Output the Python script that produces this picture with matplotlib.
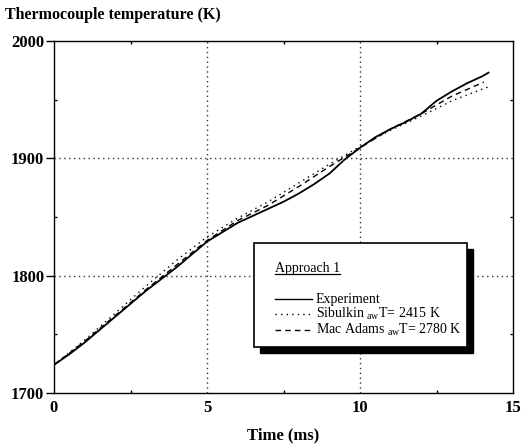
import matplotlib
matplotlib.use("Agg")
import matplotlib.pyplot as plt
from matplotlib.patches import Rectangle
from matplotlib.lines import Line2D

plt.rcParams['font.family'] = ['Liberation Serif', 'DejaVu Serif']
plt.rcParams['mathtext.fontset'] = 'custom'
plt.rcParams['mathtext.rm'] = 'Liberation Serif'
plt.rcParams['mathtext.it'] = 'Liberation Serif:italic'

# Data
t_exp = [0, 0.5, 1, 1.5, 2, 2.5, 3, 3.5, 4, 4.5, 5, 5.5, 6, 6.5, 7, 7.5, 8, 8.5,
         9, 9.5, 10, 10.5, 11, 11.5, 12, 12.5, 13, 13.5, 14, 14.2]
T_exp = [1724, 1733, 1743, 1754, 1765, 1776, 1787, 1797, 1807, 1818, 1829, 1837,
         1845, 1851, 1857, 1863, 1870, 1878, 1887, 1899, 1909, 1918, 1925, 1931,
         1938, 1949, 1957, 1964, 1970, 1973]

t_sib = [0, 1, 2, 3, 4, 5, 6, 7, 8, 9, 10, 11, 12, 13, 14.2]
T_sib = [1724, 1745, 1768, 1791, 1813, 1833, 1849, 1863, 1879, 1895, 1910, 1924,
         1936, 1949, 1961]

t_mac = [0, 1, 2, 3, 4, 5, 6, 7, 8, 9, 10, 11, 12, 13, 14.05]
T_mac = [1724, 1744, 1766, 1788, 1809, 1830, 1847, 1860, 1876, 1893, 1909, 1925,
         1938, 1953, 1965]

xticks = [0, 5, 10, 15]
yticks = [1700, 1800, 1900, 2000]

fig = plt.figure(figsize=(5.30, 4.48), dpi=100)
ax = fig.add_axes([54/530, 1-393/448, (513-54)/530, (393-41)/448])

ax.plot(t_exp, T_exp, color='black', lw=1.3, ls='-')
ax.plot(t_sib, T_sib, color='black', lw=1.0, ls=(0, (1, 3)))
ax.plot(t_mac, T_mac, color='black', lw=1.0, ls=(0, (4, 3)))

ax.set_xlim(0, 15)
ax.set_ylim(1700, 2000)
ax.set_xticks(xticks)
ax.set_yticks(yticks)
ax.set_xticks([2.5, 7.5, 12.5], minor=True)
ax.set_yticks([1750, 1850, 1950], minor=True)

for gx in [5, 10]:
    ax.axvline(gx, color='#333333', lw=1.0, ls=(0, (1, 2.5)), zorder=0)
for gy in [1800, 1900]:
    ax.axhline(gy, color='#333333', lw=1.0, ls=(0, (1, 2.5)), zorder=0)

ax.tick_params(axis='y', which='major', direction='out', length=6, width=1,
               labelsize=12, pad=1)
ax.tick_params(axis='x', which='major', direction='in', length=0, labelsize=12, pad=5)
ax.tick_params(which='minor', direction='in', length=2, width=1,
               top=True, right=True)
for lab in ax.get_xticklabels() + ax.get_yticklabels():
    lab.set_fontweight('bold')
for s in ax.spines.values():
    s.set_linewidth(1.0)

ax.set_xlabel('Time (ms)', fontsize=12, fontweight='bold', labelpad=8)
fig.text(5/530, 1-19/448, 'Thermocouple temperature (K)', fontsize=11.5,
         fontweight='bold', ha='left', va='baseline')

# Legend box with shadow
bx0, by0, bx1, by1 = 254, 243, 467, 347
off = 6
fig.patches.append(Rectangle(((bx0+off)/530, 1-(by1+off)/448), (bx1-bx0)/530,
                             (by1-by0)/448, transform=fig.transFigure,
                             facecolor='black', edgecolor='black', zorder=5))
fig.patches.append(Rectangle((bx0/530, 1-by1/448), (bx1-bx0)/530,
                             (by1-by0)/448, transform=fig.transFigure,
                             facecolor='white', edgecolor='black', lw=1.2, zorder=6))

fig.text(275/530, 1-272/448, 'Approach 1', fontsize=10, ha='left',
         va='baseline', zorder=7)
fig.add_artist(Line2D([275/530, 340/530], [1-274/448, 1-274/448],
                      transform=fig.transFigure, color='black', lw=0.9, zorder=7))

entries = [
    (299, '-', 'Experiment'),
    (314, (0, (1, 3)), r'Sibulkin $_{\mathrm{aw}}$T= 2415 K'),
    (330, (0, (4, 3)), r'Mac Adams $_{\mathrm{aw}}$T= 2780 K'),
]
for yy, ls, label in entries:
    fig.add_artist(Line2D([275/530, 312/530], [1-yy/448, 1-yy/448],
                          transform=fig.transFigure, color='black', lw=1.0,
                          ls=ls, zorder=7))
    fig.text(316/530, 1-(yy+4)/448, label, fontsize=10, ha='left',
             va='baseline', zorder=7)

fig.savefig('out.png', dpi=100)
